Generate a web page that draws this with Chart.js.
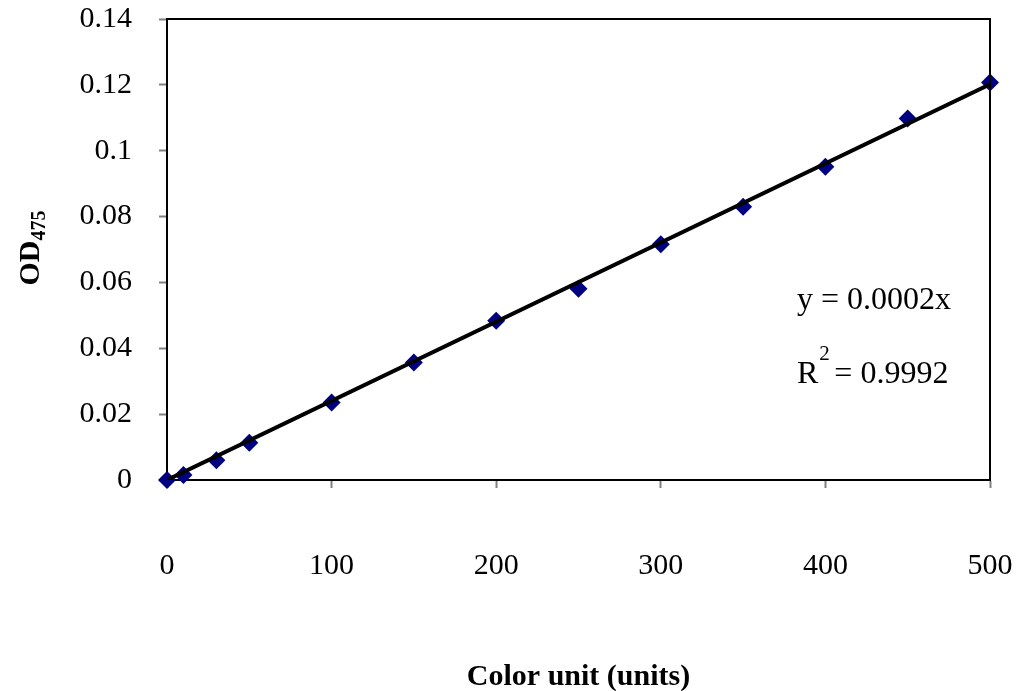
<!DOCTYPE html>
<html>
<head>
<meta charset="utf-8">
<script src="https://cdn.jsdelivr.net/npm/chart.js@4"></script>
<style>
  html, body { margin: 0; padding: 0; background: #ffffff; }
  canvas { display: block; }
</style>
</head>
<body>
<canvas id="odChart" width="1020" height="691"></canvas>
<script>
// ---------- Data ----------
const colorUnits = [0, 10, 30, 50, 100, 150, 200, 250, 300, 350, 400, 450, 500];
const odValues = [0, 0.0015, 0.006, 0.0113, 0.0235, 0.0357, 0.0484, 0.0581, 0.0716, 0.083, 0.0951, 0.1098, 0.1207];

// linear trendline (through origin), end points
const trendX = [0, 500];
const trendY = [0, 0.1202];

const xTicks = [0, 100, 200, 300, 400, 500];
const yTicks = [0, 0.02, 0.04, 0.06, 0.08, 0.1, 0.12, 0.14];

const equationText = "y = 0.0002x";
const rSquaredText = "0.9992";

const SERIF = "'Liberation Serif', 'Times New Roman', serif";

// ---------- Frame + texts plugin ----------
const extrasPlugin = {
  id: 'extras',
  afterDraw(chart) {
    const { ctx, chartArea } = chart;
    ctx.save();

    // top and right border of the plot box
    ctx.strokeStyle = '#000000';
    ctx.lineWidth = 2;
    ctx.beginPath();
    ctx.moveTo(chartArea.left, chartArea.top);
    ctx.lineTo(chartArea.right, chartArea.top);
    ctx.lineTo(chartArea.right, chartArea.bottom);
    ctx.stroke();

    ctx.fillStyle = '#000000';

    // y axis title with subscript: OD475
    ctx.save();
    ctx.translate(29, 248);
    ctx.rotate(-Math.PI / 2);
    ctx.textBaseline = 'alphabetic';
    ctx.font = 'bold 30px ' + SERIF;
    const odW = ctx.measureText('OD').width;
    ctx.font = 'bold 20px ' + SERIF;
    const subW = ctx.measureText('475').width;
    const startX = -(odW + subW) / 2;
    ctx.font = 'bold 30px ' + SERIF;
    ctx.fillText('OD', startX, 10);
    ctx.font = 'bold 20px ' + SERIF;
    ctx.fillText('475', startX + odW, 16);
    ctx.restore();

    // regression texts
    ctx.textBaseline = 'alphabetic';
    ctx.textAlign = 'left';
    ctx.font = '32px ' + SERIF;
    ctx.fillText(equationText, 797, 309);

    ctx.fillText('R', 797, 383);
    const rW = ctx.measureText('R').width;
    ctx.font = '21px ' + SERIF;
    ctx.fillText('2', 797 + rW + 1, 360);
    ctx.font = '32px ' + SERIF;
    ctx.fillText(' = ' + rSquaredText, 797 + rW + 8, 383);

    ctx.restore();
  }
};

// ---------- Chart ----------
new Chart(document.getElementById('odChart'), {
  type: 'scatter',
  data: {
    datasets: [
      {
        label: 'Trendline',
        data: trendX.map((x, i) => ({ x: x, y: trendY[i] })),
        showLine: true,
        borderColor: '#000000',
        borderWidth: 4,
        pointRadius: 0,
        fill: false,
        order: 0
      },
      {
        label: 'OD475',
        data: colorUnits.map((x, i) => ({ x: x, y: odValues[i] })),
        pointStyle: 'rectRot',
        pointRadius: 9,
        backgroundColor: '#000080',
        borderColor: '#000080',
        borderWidth: 0,
        clip: false,
        order: 1
      }
    ]
  },
  options: {
    responsive: false,
    animation: false,
    layout: {
      padding: { left: 0, top: 19, right: 30, bottom: 0 }
    },
    plugins: {
      legend: { display: false },
      tooltip: { enabled: false }
    },
    scales: {
      x: {
        type: 'linear',
        min: 0,
        max: 500,
        afterBuildTicks: scale => {
          scale.ticks = xTicks.map(v => ({ value: v }));
        },
        afterFit: scale => {
          scale.height = 211;
          scale.paddingLeft = 0;
          scale.paddingRight = 0;
        },
        ticks: {
          color: '#000000',
          font: { family: SERIF, size: 30 },
          padding: 60,
          maxRotation: 0
        },
        grid: {
          drawOnChartArea: false,
          drawTicks: true,
          tickLength: 8,
          tickColor: '#808080',
          tickWidth: 2
        },
        border: { color: '#000000', width: 2 },
        title: {
          display: true,
          text: 'Color unit (units)',
          color: '#000000',
          font: { family: SERIF, size: 30, weight: 'bold' },
          padding: { top: 0, bottom: -4 }
        }
      },
      y: {
        type: 'linear',
        min: 0,
        max: 0.14,
        afterBuildTicks: scale => {
          scale.ticks = yTicks.map(v => ({ value: v }));
        },
        afterFit: scale => {
          scale.width = 167;
          scale.paddingTop = 0;
          scale.paddingBottom = 0;
        },
        ticks: {
          color: '#000000',
          font: { family: SERIF, size: 30 },
          padding: 27,
          callback: v => String(Math.round(v * 100) / 100)
        },
        grid: {
          drawOnChartArea: false,
          drawTicks: true,
          tickLength: 8,
          tickColor: '#808080',
          tickWidth: 2
        },
        border: { color: '#000000', width: 2 }
      }
    }
  },
  plugins: [extrasPlugin]
});
</script>
</body>
</html>
